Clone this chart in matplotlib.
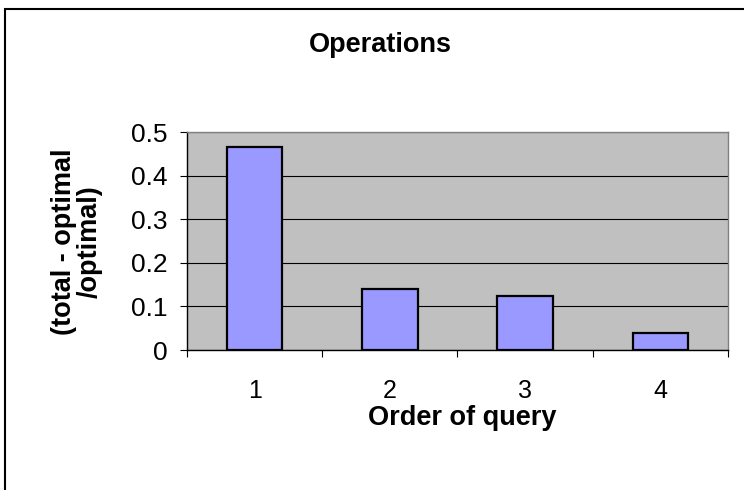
import matplotlib.pyplot as plt
from matplotlib.patches import Rectangle

plt.rcParams['font.family'] = ['Liberation Sans', 'DejaVu Sans']

categories = ['1', '2', '3', '4']
values = [0.466, 0.14, 0.124, 0.038]
y_ticks = [0, 0.1, 0.2, 0.3, 0.4, 0.5]

fig = plt.figure(figsize=(7.44, 4.90), dpi=100)
ax = fig.add_axes([0.2513, 0.2857, 0.7272, 0.4449])
ax.set_facecolor('#C0C0C0')

x = list(range(len(categories)))
ax.bar(x, values, width=0.41, color='#9999FF', edgecolor='black', linewidth=1.6, zorder=3)

ax.set_xlim(-0.5, len(categories) - 0.5)
ax.set_ylim(0, 0.5)
ax.set_yticks(y_ticks)
ax.set_yticklabels(['0', '0.1', '0.2', '0.3', '0.4', '0.5'])
ax.yaxis.grid(True, color='black', linewidth=0.8, zorder=1)
ax.set_axisbelow(True)

# category labels sit between tick marks placed at the boundaries
ax.set_xticks([i - 0.5 for i in range(len(categories) + 1)])
ax.set_xticklabels([])
ax.set_xticks(x, minor=True)
ax.set_xticklabels(categories, minor=True)
ax.tick_params(axis='x', which='major', length=5, width=0.8, direction='out', color='black')
ax.tick_params(axis='x', which='minor', length=0, pad=21, labelsize=18)
ax.tick_params(axis='y', length=5, width=0.8, direction='out', labelsize=19, pad=9)

ax.spines['left'].set_color('black')
ax.spines['bottom'].set_color('black')
ax.spines['top'].set_color('#808080')
ax.spines['right'].set_color('#808080')
for s in ax.spines.values():
    s.set_linewidth(1.0)

fig.text(0.621, 1 - 405 / 490, 'Order of query', ha='center', va='top', fontsize=19.5, fontweight='bold')
fig.text(77 / 744, 0.506, '(total - optimal\n/optimal)', ha='center', va='center', rotation=90,
         fontsize=19.5, fontweight='bold', linespacing=1.0)
fig.text(0.511, 0.908, 'Operations', ha='center', va='center', fontsize=19.5, fontweight='bold')

# outer chart border, cut off on right and bottom
fig.patches.append(Rectangle((5 / 744, -0.1), 1.2, 1.1 - 9 / 490, transform=fig.transFigure,
                             fill=False, edgecolor='black', linewidth=1.5))

fig.savefig('out.png', dpi=100)
